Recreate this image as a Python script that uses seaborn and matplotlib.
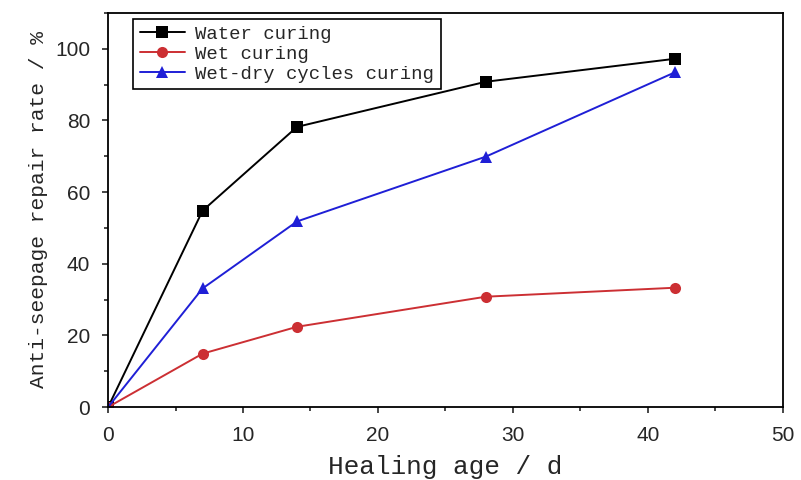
import matplotlib
matplotlib.use("Agg")
import matplotlib.pyplot as plt
import pandas as pd
import seaborn as sns
from matplotlib.ticker import MultipleLocator

# values
age = [0, 7, 14, 28, 42]
water_curing = [0, 54.8, 78.2, 90.8, 97.2]
wet_curing = [0, 14.9, 22.4, 30.8, 33.3]
wet_dry_curing = [0, 33.1, 51.8, 69.9, 93.4]
series_names = ["Water curing", "Wet curing", "Wet-dry cycles curing"]

sns.set_theme(style="ticks")
label_font = "Liberation Mono"
tick_font = "Liberation Sans"

frames = []
for name, vals in zip(series_names, [water_curing, wet_curing, wet_dry_curing]):
    frames.append(pd.DataFrame({"age": age, "rate": vals, "curing": name}))
df = pd.concat(frames, ignore_index=True)

palette = {"Water curing": "#000000", "Wet curing": "#cc2f33", "Wet-dry cycles curing": "#1f1fd6"}
markers = {"Water curing": "s", "Wet curing": "o", "Wet-dry cycles curing": "^"}

fig = plt.figure(figsize=(8.01, 4.8), dpi=100)
ax = fig.add_axes([0.135, 0.152, 0.842, 0.821])

sns.lineplot(
    data=df, x="age", y="rate", hue="curing", style="curing",
    hue_order=series_names, style_order=series_names,
    palette=palette, markers=markers, dashes=False,
    markersize=8, markeredgewidth=0, linewidth=1.4, ax=ax,
)

ax.set_xlim(0, 50)
ax.set_ylim(0, 110)
ax.xaxis.set_major_locator(MultipleLocator(10))
ax.xaxis.set_minor_locator(MultipleLocator(5))
ax.yaxis.set_major_locator(MultipleLocator(20))
ax.yaxis.set_minor_locator(MultipleLocator(10))
ax.tick_params(which="major", direction="out", length=4.5, width=1.2, labelsize=15)
ax.tick_params(which="minor", direction="out", length=3, width=1.2)
ax.tick_params(axis="x", which="major", pad=9.5)
ax.tick_params(axis="y", which="major", pad=8.5)
for lab in ax.get_xticklabels() + ax.get_yticklabels():
    lab.set_fontfamily(tick_font)
for s in ax.spines.values():
    s.set_linewidth(1.3)
    s.set_color("black")

ax.set_xlabel("Healing age / d", fontsize=18.8, family=label_font, labelpad=6.5)
ax.set_ylabel("Anti-seepage repair rate / %", fontsize=15.3, family=label_font, labelpad=5)

leg = ax.legend(
    loc="upper left", bbox_to_anchor=(0.037, 0.985), borderaxespad=0,
    fancybox=False, edgecolor="black", framealpha=1,
    prop={"family": label_font, "size": 13.6},
    handlelength=2.4, handletextpad=0.55, labelspacing=0.15, borderpad=0.35,
)
leg.get_frame().set_linewidth(1.2)

fig.savefig("out.png", dpi=100)
